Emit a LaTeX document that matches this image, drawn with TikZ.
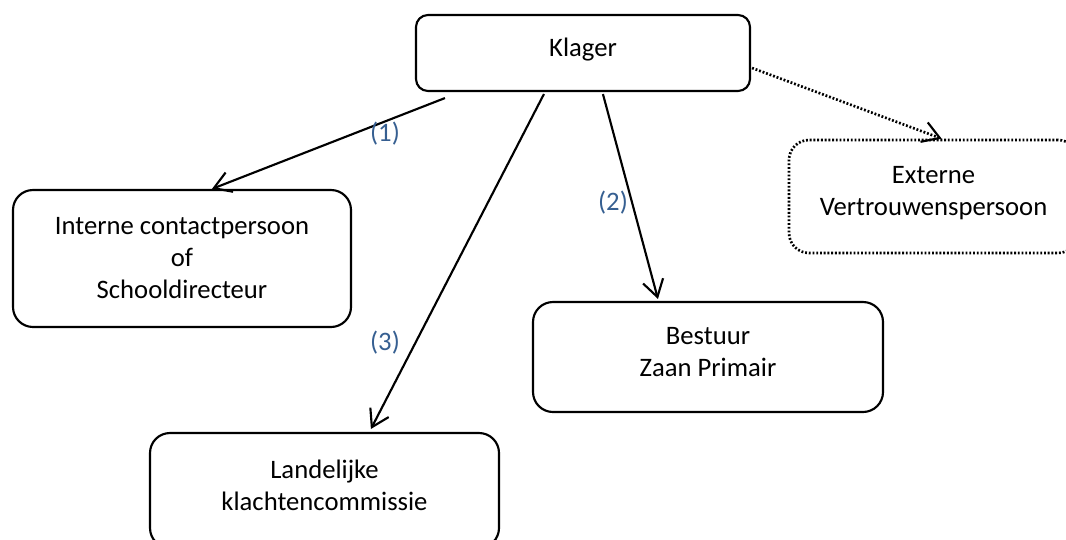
\documentclass[tikz,border=0pt]{standalone}
\usepackage{fontspec}
\setmainfont{Carlito}
\usetikzlibrary{arrows.meta,calc}
\definecolor{lblblue}{RGB}{54,95,145}
\begin{document}
\begin{tikzpicture}[x=0.75pt,y=-0.75pt,
  txt/.style={font=\fontsize{20}{24}\selectfont},
  box/.style={draw,line width=1.6pt,rounded corners=15pt,inner sep=0pt,align=center,txt},
  dotbox/.style={box,line width=2pt,dash pattern=on 1.4pt off 1.4pt},
  arr/.style={line width=1.6pt,-{Straight Barb[length=12.5pt,width=15.5pt,line width=1.6pt]}},
  dotarr/.style={line width=2pt,dash pattern=on 1.4pt off 1.4pt,-{Straight Barb[length=12.5pt,width=15.5pt,line width=1.6pt]}},
  lbl/.style={txt,text=lblblue,inner sep=0pt}]
\path[use as bounding box,clip] (0,0) rectangle (1066,539);
\node[box,rounded corners=9pt,minimum width=250.5pt,minimum height=57pt] (kl) at (583,53) {Klager\\[-23pt]\strut};
\node[box,minimum width=253.5pt,minimum height=102.75pt] (int) at (182,258.5) {Interne contactpersoon\\of\\Schooldirecteur};
\node[dotbox,minimum width=216.75pt,minimum height=84.75pt] (ext) at (933.5,196.5) {Externe\\Vertrouwenspersoon\\[-23pt]\strut};
\node[box,minimum width=262.5pt,minimum height=82.5pt] (bes) at (708,357) {Bestuur\\Zaan Primair\\[-23pt]\strut};
\node[box,minimum width=261.75pt,minimum height=86.25pt] (lan) at (324.5,490.5) {Landelijke\\klachtencommissie\\[-23pt]\strut};
\draw[arr] ($(kl.south west)+(30,6)$) -- ($(int.north west)+(200,0)$);
\draw[arr] ($(kl.south west)+(129,2)$) -- ($(lan.north west)+(222,-3)$);
\draw[arr] ($(kl.south west)+(188,2)$) -- ($(bes.north west)+(126,-2)$);
\draw[dotarr] ($(kl.east)+(1,15)$) -- ($(ext.north west)+(154,0)$);
\node[lbl] (l1) at (385,134) {(1)};
\node[lbl] (l2) at (613,203) {(2)};
\node[lbl] (l3) at (385,343) {(3)};
\end{tikzpicture}
\end{document}
